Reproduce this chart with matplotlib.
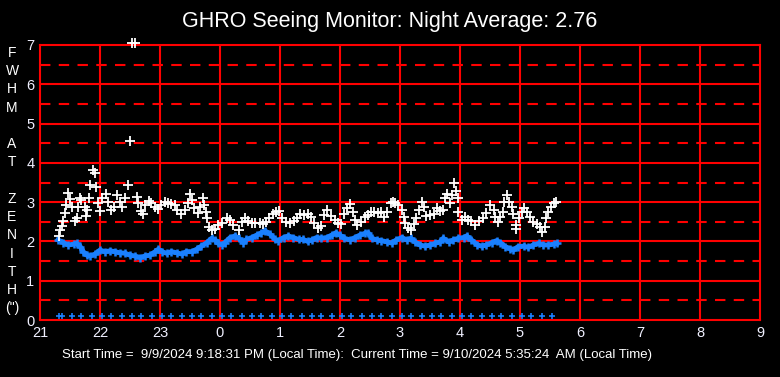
import matplotlib
matplotlib.use('Agg')
import matplotlib.pyplot as plt

plt.rcParams['font.family'] = ['Liberation Sans', 'DejaVu Sans']

# white: measured FWHM (hours since midnight, +24 after midnight)
white_t = [21.31, 21.33, 21.36, 21.39, 21.42, 21.44, 21.47, 21.50, 21.53, 21.58,
           21.61, 21.64, 21.67, 21.69, 21.75, 21.77, 21.79, 21.82, 21.84, 21.88,
           21.92, 21.94, 21.96, 22.00, 22.04, 22.10, 22.14, 22.19, 22.23, 22.28,
           22.33, 22.36, 22.42, 22.47, 22.50, 22.53, 22.59, 22.62, 22.64, 22.68,
           22.71, 22.75, 22.81, 22.85, 22.91, 22.96, 23.02, 23.08, 23.14, 23.19,
           23.25, 23.29, 23.35, 23.41, 23.46, 23.50, 23.54, 23.57, 23.63, 23.67,
           23.71, 23.74, 23.76, 23.79, 23.82, 23.87, 23.92, 23.97, 24.04, 24.11,
           24.17, 24.22, 24.31, 24.36, 24.42, 24.47, 24.53, 24.58, 24.66, 24.71,
           24.77, 24.82, 24.88, 24.93, 24.99, 25.04, 25.10, 25.17, 25.23, 25.29,
           25.34, 25.40, 25.46, 25.52, 25.57, 25.63, 25.68, 25.74, 25.79, 25.85,
           25.91, 25.96, 26.02, 26.07, 26.11, 26.17, 26.21, 26.25, 26.29, 26.35,
           26.41, 26.46, 26.52, 26.57, 26.63, 26.68, 26.74, 26.79, 26.85, 26.89,
           26.92, 26.97, 27.03, 27.06, 27.08, 27.14, 27.19, 27.23, 27.27, 27.31,
           27.36, 27.40, 27.44, 27.50, 27.56, 27.61, 27.67, 27.71, 27.75, 27.78,
           27.83, 27.86, 27.90, 27.93, 27.96, 27.97, 28.03, 28.08, 28.14, 28.19,
           28.25, 28.31, 28.39, 28.44, 28.50, 28.56, 28.59, 28.63, 28.67, 28.71,
           28.74, 28.78, 28.82, 28.86, 28.89, 28.93, 28.94, 28.98, 29.03, 29.07,
           29.11, 29.17, 29.22, 29.28, 29.33, 29.37, 29.42, 29.44, 29.47, 29.52,
           29.57, 29.60]
white_v = [2.14, 2.29, 2.39, 2.53, 2.73, 2.93, 3.24, 3.08, 2.88, 2.53,
           2.59, 2.87, 3.10, 3.05, 2.88, 2.65, 2.80, 3.10, 3.43, 3.82,
           3.75, 3.39, 2.97, 2.78, 3.10, 3.22, 3.01, 2.80, 2.88, 3.18,
           3.01, 2.88, 3.10, 3.43, 4.55, 7.05, 7.05, 3.14, 2.99, 2.78,
           2.71, 2.93, 3.04, 2.97, 2.88, 2.82, 2.93, 3.01, 2.97, 2.95,
           2.93, 2.80, 2.70, 2.80, 2.97, 3.20, 3.05, 2.84, 2.73, 2.88,
           3.10, 2.93, 2.76, 2.59, 2.36, 2.29, 2.31, 2.42, 2.46, 2.59,
           2.54, 2.42, 2.29, 2.50, 2.59, 2.53, 2.48, 2.48, 2.48, 2.44,
           2.50, 2.59, 2.71, 2.76, 2.78, 2.59, 2.50, 2.48, 2.53, 2.59,
           2.71, 2.67, 2.69, 2.63, 2.48, 2.33, 2.39, 2.67, 2.80, 2.65,
           2.54, 2.48, 2.44, 2.71, 2.84, 2.95, 2.76, 2.54, 2.42, 2.50,
           2.63, 2.67, 2.76, 2.76, 2.73, 2.76, 2.63, 2.76, 2.97, 3.01,
           2.99, 2.93, 2.80, 2.63, 2.46, 2.33, 2.29, 2.44, 2.59, 2.80,
           3.01, 2.87, 2.65, 2.67, 2.70, 2.84, 2.78, 2.80, 3.10, 3.22,
           2.99, 3.18, 3.48, 3.29, 3.10, 2.76, 2.54, 2.63, 2.54, 2.53,
           2.42, 2.53, 2.59, 2.73, 2.93, 2.80, 2.63, 2.50, 2.63, 2.76,
           3.01, 3.18, 3.01, 2.87, 2.70, 2.42, 2.31, 2.59, 2.76, 2.84,
           2.76, 2.63, 2.50, 2.44, 2.37, 2.25, 2.36, 2.59, 2.76, 2.88,
           2.99, 3.01]

# blue: zenith-corrected seeing
blue_t = [21.30, 21.39, 21.47, 21.56, 21.61, 21.67, 21.72, 21.78, 21.83, 21.92,
          22.00, 22.08, 22.17, 22.25, 22.33, 22.42, 22.50, 22.58, 22.67, 22.75,
          22.83, 22.92, 22.97, 23.03, 23.11, 23.19, 23.28, 23.36, 23.44, 23.53,
          23.61, 23.69, 23.78, 23.86, 23.92, 23.97, 24.04, 24.08, 24.17, 24.25,
          24.31, 24.39, 24.44, 24.53, 24.61, 24.69, 24.75, 24.83, 24.92, 24.97,
          25.06, 25.14, 25.22, 25.31, 25.39, 25.46, 25.53, 25.61, 25.69, 25.78,
          25.86, 25.93, 26.00, 26.07, 26.17, 26.25, 26.33, 26.42, 26.47, 26.53,
          26.61, 26.69, 26.78, 26.86, 26.94, 27.03, 27.11, 27.18, 27.25, 27.33,
          27.42, 27.50, 27.58, 27.67, 27.72, 27.81, 27.89, 27.97, 28.06, 28.11,
          28.19, 28.28, 28.36, 28.44, 28.53, 28.61, 28.67, 28.75, 28.83, 28.89,
          28.97, 29.06, 29.14, 29.22, 29.31, 29.39, 29.47, 29.56, 29.61]
blue_v = [2.04, 1.97, 1.91, 1.93, 1.95, 1.87, 1.74, 1.65, 1.63, 1.68,
          1.78, 1.74, 1.76, 1.74, 1.71, 1.70, 1.65, 1.63, 1.59, 1.63,
          1.65, 1.74, 1.80, 1.74, 1.70, 1.74, 1.71, 1.68, 1.74, 1.74,
          1.80, 1.88, 1.97, 2.08, 2.04, 1.95, 1.92, 1.97, 2.10, 2.14,
          2.08, 1.97, 2.05, 2.10, 2.16, 2.22, 2.27, 2.19, 2.05, 2.02,
          2.10, 2.14, 2.10, 2.05, 2.05, 2.00, 2.04, 2.10, 2.08, 2.10,
          2.16, 2.22, 2.16, 2.08, 2.04, 2.10, 2.16, 2.21, 2.22, 2.08,
          2.04, 2.02, 1.99, 1.96, 2.04, 2.10, 2.04, 2.08, 1.99, 1.91,
          1.88, 1.91, 1.95, 1.99, 2.08, 1.99, 2.04, 2.08, 2.10, 2.14,
          2.04, 1.92, 1.88, 1.91, 1.97, 2.02, 1.97, 1.87, 1.82, 1.78,
          1.87, 1.88, 1.85, 1.91, 1.95, 1.91, 1.91, 1.93, 1.95]

# blue crosses along the bottom (sample times)
tick_t = [21.31, 21.36, 21.53, 21.69, 21.86, 22.03, 22.19, 22.36, 22.53, 22.69,
          22.86, 23.03, 23.19, 23.36, 23.53, 23.69, 23.86, 24.03, 24.19, 24.36,
          24.53, 24.69, 24.86, 25.03, 25.19, 25.36, 25.53, 25.69, 25.86, 26.03,
          26.19, 26.36, 26.53, 26.69, 26.86, 27.03, 27.19, 27.36, 27.53, 27.69,
          27.86, 28.03, 28.19, 28.36, 28.53, 28.69, 28.86, 29.03, 29.19, 29.36,
          29.53]
tick_v = [0.1] * len(tick_t)

x_ticks = list(range(21, 34))
x_labels = [str(h % 24) for h in x_ticks]

red = '#ff0000'
blue = '#1a80ff'

fig = plt.figure(figsize=(7.8, 3.77), dpi=100, facecolor='black')
ax = fig.add_axes([40 / 780, 57 / 377, 720 / 780, 275 / 377])
ax.set_facecolor('black')
ax.set_xlim(21, 33)
ax.set_ylim(0, 7)

# grid
for y in range(1, 7):
    ax.axhline(y, color=red, lw=1.5, zorder=1)
for k in range(7):
    ax.axhline(k + 0.5, color=red, lw=1.5, dashes=(5, 4), zorder=1)
for x in range(22, 33):
    ax.axvline(x, color=red, lw=1.5, zorder=1)
for s in ax.spines.values():
    s.set_color(red)
    s.set_linewidth(1.5)

ax.plot(blue_t, blue_v, '-', color=blue, lw=3.5, zorder=2)
ax.plot(blue_t, blue_v, '+', color=blue, ms=6, mew=1.8, zorder=2)
ax.plot(white_t, white_v, '+', color='white', ms=7, mew=1.3, zorder=3, clip_on=False)
ax.plot(tick_t, tick_v, '+', color=blue, ms=5, mew=1.2, zorder=3)

ax.set_xticks(x_ticks)
ax.set_xticklabels(x_labels)
ax.set_yticks(range(0, 8))
ax.tick_params(colors='white', length=0, labelsize=10.5, pad=4)
for lab in ax.get_xticklabels() + ax.get_yticklabels():
    lab.set_color('#f0f0ff')

fig.text(0.5, 1 - 22 / 377, 'GHRO Seeing Monitor: Night Average: 2.76', color='white',
         fontsize=15.5, ha='center', va='center')
fig.text(12 / 780, 1 - 46 / 377, 'F\nW\nH\nM\n\nA\nT\n\nZ\nE\nN\nI\nT\nH\n(")',
         color='white', fontsize=10, ha='center', va='top', linespacing=1.385)
fig.text(62 / 780, 1 - 355 / 377,
         'Start Time =  9/9/2024 9:18:31 PM (Local Time):  Current Time = 9/10/2024 5:35:24  AM (Local Time)',
         color='white', fontsize=9.5, ha='left', va='center')

fig.savefig('out.png', dpi=100, facecolor='black')
